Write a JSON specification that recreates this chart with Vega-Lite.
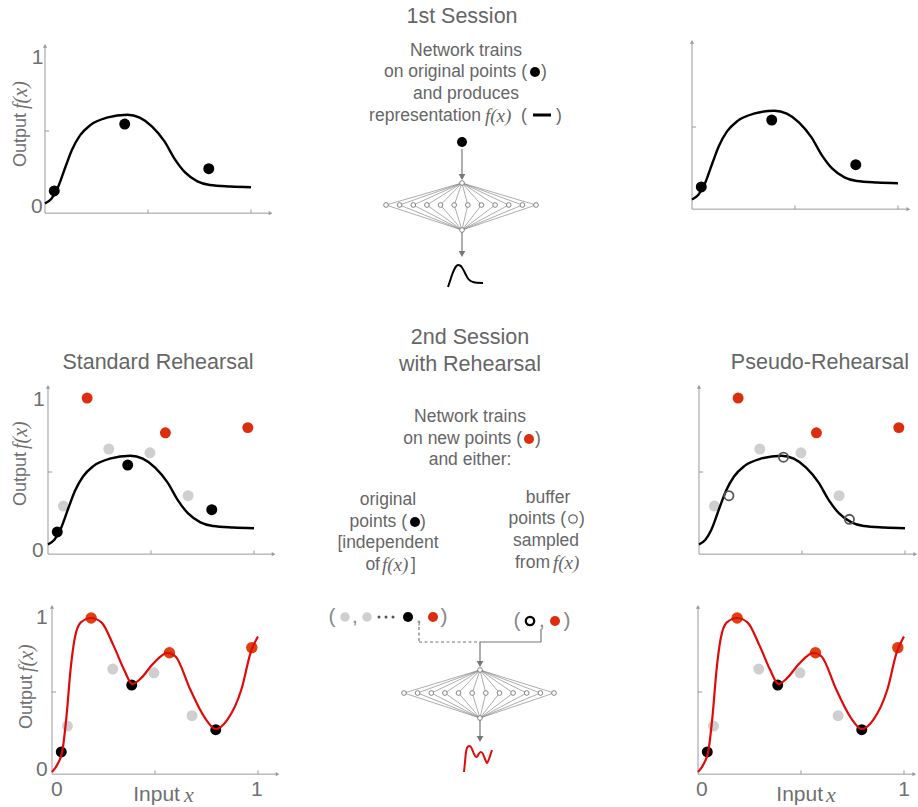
{
  "$schema": "https://vega.github.io/schema/vega-lite/v6.json",
  "padding": 0,
  "background": "white",
  "config": {"view": {"stroke": null}, "font": "Liberation Sans", "text": {"font": "Liberation Sans"}},
  "datasets": {
    "fx": [{"x":0,"y":0.01},{"x":0.03,"y":0.04},{"x":0.06,"y":0.11},{"x":0.1,"y":0.26},{"x":0.13,"y":0.37},{"x":0.17,"y":0.47},{"x":0.22,"y":0.54},{"x":0.3,"y":0.59},{"x":0.4,"y":0.61},{"x":0.46,"y":0.59},{"x":0.52,"y":0.53},{"x":0.58,"y":0.43},{"x":0.63,"y":0.31},{"x":0.68,"y":0.22},{"x":0.74,"y":0.16},{"x":0.8,"y":0.135},{"x":0.9,"y":0.125},{"x":1.0,"y":0.12}],
    "gx": [{"x":0,"y":-0.04},{"x":0.03,"y":0.02},{"x":0.05,"y":0.1},{"x":0.07,"y":0.33},{"x":0.09,"y":0.65},{"x":0.11,"y":0.86},{"x":0.14,"y":0.97},{"x":0.19,"y":1.0},{"x":0.24,"y":0.97},{"x":0.3,"y":0.81},{"x":0.35,"y":0.65},{"x":0.39,"y":0.555},{"x":0.43,"y":0.59},{"x":0.49,"y":0.69},{"x":0.56,"y":0.765},{"x":0.6,"y":0.74},{"x":0.67,"y":0.52},{"x":0.74,"y":0.33},{"x":0.795,"y":0.25},{"x":0.85,"y":0.31},{"x":0.92,"y":0.52},{"x":0.965,"y":0.77},{"x":1.0,"y":0.875}],
    "orig": [{"x":0.045,"y":0.095},{"x":0.387,"y":0.547},{"x":0.795,"y":0.245}],
    "new": [{"x":0.19,"y":1.0},{"x":0.57,"y":0.765},{"x":0.97,"y":0.8}],
    "old": [{"x":0.075,"y":0.27},{"x":0.295,"y":0.655},{"x":0.495,"y":0.63},{"x":0.68,"y":0.34}],
    "buf": [{"x":0.145,"y":0.34},{"x":0.41,"y":0.6},{"x":0.73,"y":0.18}],
    "axL": [{"x":0,"y":-0.055,"x2":1.09,"y2":-0.055},{"x":0,"y":-0.055,"x2":0,"y2":1.07},{"x":0.5,"y":-0.055,"x2":0.5,"y2":-0.03},{"x":1,"y":-0.055,"x2":1,"y2":-0.03},{"x":0,"y":0.5,"x2":0.02,"y2":0.5}],
    "tipL": [{"x":1.095,"y":-0.055,"d":"x"},{"x":0,"y":1.075,"d":"y"}],
    "axR": [{"x":0,"y":-0.055,"x2":1.045,"y2":-0.055},{"x":0,"y":-0.055,"x2":0,"y2":1.07},{"x":0.5,"y":-0.055,"x2":0.5,"y2":-0.03},{"x":1,"y":-0.055,"x2":1,"y2":-0.03},{"x":0,"y":0.5,"x2":0.02,"y2":0.5}],
    "tipR": [{"x":1.05,"y":-0.055,"d":"x"},{"x":0,"y":1.075,"d":"y"}],
    "lab": [
      {"p":1,"k":"n","t":"1","x":-0.036,"y":0.99},{"p":1,"k":"n","t":"0","x":-0.039,"y":-0.014},
      {"p":1,"k":"yt","t":"Output","x":-0.117,"y":0.622},{"p":1,"k":"yf","t":"f(x)","x":-0.117,"y":0.649},
      {"p":3,"k":"n","t":"1","x":-0.044,"y":0.986},{"p":3,"k":"n","t":"0","x":-0.049,"y":-0.034},
      {"p":3,"k":"yt","t":"Output","x":-0.131,"y":0.635},{"p":3,"k":"yf","t":"f(x)","x":-0.131,"y":0.655},
      {"p":3,"k":"ti","t":"Standard Rehearsal","x":0.534,"y":1.236},
      {"p":4,"k":"ti","t":"Pseudo-Rehearsal","x":0.587,"y":1.236},
      {"p":5,"k":"n","t":"1","x":-0.049,"y":1.0},{"p":5,"k":"n","t":"0","x":-0.049,"y":-0.027},
      {"p":5,"k":"n","t":"0","x":0.024,"y":-0.162},{"p":5,"k":"n","t":"1","x":0.995,"y":-0.162},
      {"p":5,"k":"yt","t":"Output","x":-0.121,"y":0.615},{"p":5,"k":"yf","t":"f(x)","x":-0.121,"y":0.635},
      {"p":5,"k":"xt","t":"Input","x":0.621,"y":-0.196},{"p":5,"k":"xf","t":"x","x":0.641,"y":-0.196},
      {"p":6,"k":"n","t":"0","x":0.019,"y":-0.162},{"p":6,"k":"n","t":"1","x":1.0,"y":-0.162},
      {"p":6,"k":"xt","t":"Input","x":0.607,"y":-0.196},{"p":6,"k":"xf","t":"x","x":0.621,"y":-0.196}
    ],
    "edges": [
      {"x":162,"y":183,"x2":86,"y2":205},{"x":162,"y":183,"x2":99.6,"y2":205},{"x":162,"y":183,"x2":113.3,"y2":205},{"x":162,"y":183,"x2":126.9,"y2":205},{"x":162,"y":183,"x2":140.5,"y2":205},{"x":162,"y":183,"x2":154.2,"y2":205},{"x":162,"y":183,"x2":167.8,"y2":205},{"x":162,"y":183,"x2":181.5,"y2":205},{"x":162,"y":183,"x2":195.1,"y2":205},{"x":162,"y":183,"x2":208.7,"y2":205},{"x":162,"y":183,"x2":222.4,"y2":205},{"x":162,"y":183,"x2":236,"y2":205},
      {"x":86,"y":205,"x2":162,"y2":230},{"x":99.6,"y":205,"x2":162,"y2":230},{"x":113.3,"y":205,"x2":162,"y2":230},{"x":126.9,"y":205,"x2":162,"y2":230},{"x":140.5,"y":205,"x2":162,"y2":230},{"x":154.2,"y":205,"x2":162,"y2":230},{"x":167.8,"y":205,"x2":162,"y2":230},{"x":181.5,"y":205,"x2":162,"y2":230},{"x":195.1,"y":205,"x2":162,"y2":230},{"x":208.7,"y":205,"x2":162,"y2":230},{"x":222.4,"y":205,"x2":162,"y2":230},{"x":236,"y":205,"x2":162,"y2":230},
      {"x":180,"y":670,"x2":104,"y2":693},{"x":180,"y":670,"x2":117.6,"y2":693},{"x":180,"y":670,"x2":131.3,"y2":693},{"x":180,"y":670,"x2":144.9,"y2":693},{"x":180,"y":670,"x2":158.5,"y2":693},{"x":180,"y":670,"x2":172.2,"y2":693},{"x":180,"y":670,"x2":185.8,"y2":693},{"x":180,"y":670,"x2":199.5,"y2":693},{"x":180,"y":670,"x2":213.1,"y2":693},{"x":180,"y":670,"x2":226.7,"y2":693},{"x":180,"y":670,"x2":240.4,"y2":693},{"x":180,"y":670,"x2":254,"y2":693},
      {"x":104,"y":693,"x2":180,"y2":718},{"x":117.6,"y":693,"x2":180,"y2":718},{"x":131.3,"y":693,"x2":180,"y2":718},{"x":144.9,"y":693,"x2":180,"y2":718},{"x":158.5,"y":693,"x2":180,"y2":718},{"x":172.2,"y":693,"x2":180,"y2":718},{"x":185.8,"y":693,"x2":180,"y2":718},{"x":199.5,"y":693,"x2":180,"y2":718},{"x":213.1,"y":693,"x2":180,"y2":718},{"x":226.7,"y":693,"x2":180,"y2":718},{"x":240.4,"y":693,"x2":180,"y2":718},{"x":254,"y":693,"x2":180,"y2":718}
    ],
    "nodes": [
      {"x":162,"y":183},{"x":162,"y":230},{"x":86,"y":205},{"x":99.6,"y":205},{"x":113.3,"y":205},{"x":126.9,"y":205},{"x":140.5,"y":205},{"x":154.2,"y":205},{"x":167.8,"y":205},{"x":181.5,"y":205},{"x":195.1,"y":205},{"x":208.7,"y":205},{"x":222.4,"y":205},{"x":236,"y":205},
      {"x":180,"y":670},{"x":180,"y":718},{"x":104,"y":693},{"x":117.6,"y":693},{"x":131.3,"y":693},{"x":144.9,"y":693},{"x":158.5,"y":693},{"x":172.2,"y":693},{"x":185.8,"y":693},{"x":199.5,"y":693},{"x":213.1,"y":693},{"x":226.7,"y":693},{"x":240.4,"y":693},{"x":254,"y":693}
    ],
    "alines": [{"x":162,"y":149,"x2":162,"y2":176},{"x":162,"y":232,"x2":162,"y2":253},{"x":241,"y":629,"x2":241,"y2":642},{"x":241,"y":642,"x2":180,"y2":642},{"x":180,"y":642,"x2":180,"y2":663},{"x":180,"y":720,"x2":180,"y2":738}],
    "dlines": [{"x":119,"y":627,"x2":119,"y2":642},{"x":119,"y":642,"x2":180,"y2":642}],
    "aheads": [{"x":162,"y":177},{"x":162,"y":254},{"x":180,"y":664},{"x":180,"y":739}],
    "g1": [{"x":148,"y":287},{"x":150,"y":281},{"x":152,"y":275},{"x":154,"y":270},{"x":156,"y":266.5},{"x":158,"y":265},{"x":160,"y":265.5},{"x":162,"y":267.5},{"x":164,"y":271},{"x":166,"y":275},{"x":168,"y":278.5},{"x":170,"y":280.5},{"x":173,"y":282},{"x":177,"y":282.8},{"x":183,"y":283}],
    "g2": [{"x":164,"y":772},{"x":165,"y":762},{"x":166,"y":752},{"x":168,"y":746.5},{"x":170,"y":746},{"x":172,"y":749},{"x":174,"y":754},{"x":176,"y":757},{"x":177.5,"y":756},{"x":179,"y":753.5},{"x":181,"y":752},{"x":183,"y":754},{"x":185,"y":759},{"x":187,"y":763},{"x":189,"y":759},{"x":191,"y":753},{"x":192,"y":750}],
    "cblack": [{"x":235,"y":72},{"x":115,"y":522},{"x":162,"y":142},{"x":108,"y":617}],
    "cred": [{"x":229,"y":439},{"x":133,"y":617},{"x":255,"y":621}],
    "cgray": [{"x":45,"y":617},{"x":67,"y":617}],
    "csmall": [{"x":79,"y":617},{"x":86,"y":617},{"x":93,"y":617}],
    "copen1": [{"x":273,"y":519}],
    "copen2": [{"x":230,"y":621}],
    "cdash": [{"x":233,"y":115,"x2":251,"y2":115}],
    "ctext": [
      {"k":"big","t":"1st Session","x":162,"y":17},{"k":"big","t":"2nd Session","x":170,"y":338},{"k":"big","t":"with Rehearsal","x":170,"y":365},
      {"k":"mc","t":"Network trains","x":166,"y":51},{"k":"mc","t":"and produces","x":166,"y":94},{"k":"mc","t":"Network trains","x":170,"y":417},{"k":"mc","t":"and either:","x":170,"y":460},{"k":"mc","t":"original","x":88,"y":500},{"k":"mc","t":"[independent","x":88,"y":543},{"k":"mc","t":"buffer","x":248,"y":498},{"k":"mc","t":"sampled","x":246,"y":541},
      {"k":"mr","t":"on original points (","x":227,"y":72},{"k":"mr","t":"representation","x":181,"y":116},{"k":"mr","t":"on new points (","x":222,"y":439},{"k":"mr","t":"points (","x":107,"y":522},{"k":"mr","t":"points (","x":266,"y":519},{"k":"mr","t":"of","x":80,"y":565},{"k":"mr","t":"from","x":250,"y":563},
      {"k":"ml","t":"(","x":221,"y":116},{"k":"ml","t":")","x":256,"y":116},{"k":"ml","t":")","x":241,"y":72},{"k":"ml","t":")","x":235,"y":439},{"k":"ml","t":")","x":120,"y":522},{"k":"ml","t":")","x":279,"y":519},{"k":"ml","t":"]","x":111,"y":565},
      {"k":"fi","t":"f(x)","x":185,"y":116},{"k":"fi","t":"f(x)","x":82,"y":565},{"k":"fi","t":"f(x)","x":253,"y":563},
      {"k":"par","t":"(","x":32,"y":617},{"k":"par","t":",","x":55,"y":617},{"k":"par","t":",","x":119,"y":617},{"k":"par","t":")","x":144,"y":617},{"k":"par","t":"(","x":217,"y":621},{"k":"par","t":",","x":242,"y":621},{"k":"par","t":")","x":267,"y":621}
    ]
  },
  "hconcat": [
    {
      "vconcat": [
        {
          "width": 300, "height": 300,
          "encoding": {
            "x": {"field": "x", "type": "quantitative", "scale": {"domain": [-0.2184, 1.2379], "nice": false, "zero": false}, "axis": null},
            "y": {"field": "y", "type": "quantitative", "scale": {"domain": [-0.6419, 1.3851], "nice": false, "zero": false}, "axis": null}
          },
          "layer": [
            {"data": {"name": "axL"}, "mark": {"type": "rule", "color": "#9a9a9a", "strokeWidth": 1}, "encoding": {"x2": {"field": "x2"}, "y2": {"field": "y2"}}},
            {"data": {"name": "tipL"}, "mark": {"type": "point", "filled": true, "color": "#9a9a9a", "size": 18, "opacity": 1}, "encoding": {"shape": {"field": "d", "type": "nominal", "scale": {"domain": ["x", "y"], "range": ["triangle-right", "triangle-up"]}, "legend": null}}},
            {"data": {"name": "fx"}, "mark": {"type": "line", "color": "black", "strokeWidth": 2.4, "interpolate": "monotone"}},
            {"data": {"name": "orig"}, "mark": {"type": "point", "filled": true, "color": "black", "size": 120, "opacity": 1}},
            {"data": {"name": "lab"}, "transform": [{"filter": "datum.p==1 && datum.k=='n'"}], "mark": {"type": "text", "fontSize": 21, "color": "#707070", "align": "center", "baseline": "middle"}, "encoding": {"text": {"field": "t"}}},
            {"data": {"name": "lab"}, "transform": [{"filter": "datum.p==1 && datum.k=='yt'"}], "mark": {"type": "text", "fontSize": 18, "color": "#707070", "angle": 270, "align": "right", "baseline": "middle"}, "encoding": {"text": {"field": "t"}}},
            {"data": {"name": "lab"}, "transform": [{"filter": "datum.p==1 && datum.k=='yf'"}], "mark": {"type": "text", "fontSize": 20, "font": "Liberation Serif", "fontStyle": "italic", "color": "#707070", "angle": 270, "align": "left", "baseline": "middle"}, "encoding": {"text": {"field": "t"}}}
          ]
        },
        {
          "width": 300, "height": 290,
          "encoding": {
            "x": {"field": "x", "type": "quantitative", "scale": {"domain": [-0.2330, 1.2233], "nice": false, "zero": false}, "axis": null},
            "y": {"field": "y", "type": "quantitative", "scale": {"domain": [-0.2973, 1.6622], "nice": false, "zero": false}, "axis": null}
          },
          "layer": [
            {"data": {"name": "axL"}, "mark": {"type": "rule", "color": "#9a9a9a", "strokeWidth": 1}, "encoding": {"x2": {"field": "x2"}, "y2": {"field": "y2"}}},
            {"data": {"name": "tipL"}, "mark": {"type": "point", "filled": true, "color": "#9a9a9a", "size": 18, "opacity": 1}, "encoding": {"shape": {"field": "d", "type": "nominal", "scale": {"domain": ["x", "y"], "range": ["triangle-right", "triangle-up"]}, "legend": null}}},
            {"data": {"name": "old"}, "mark": {"type": "point", "filled": true, "color": "#cfcfcf", "size": 120, "opacity": 1}},
            {"data": {"name": "new"}, "mark": {"type": "point", "filled": true, "color": "#dc2d0c", "size": 120, "opacity": 1}},
            {"data": {"name": "fx"}, "mark": {"type": "line", "color": "black", "strokeWidth": 2.4, "interpolate": "monotone"}},
            {"data": {"name": "orig"}, "mark": {"type": "point", "filled": true, "color": "black", "size": 120, "opacity": 1}},
            {"data": {"name": "lab"}, "transform": [{"filter": "datum.p==3 && datum.k=='n'"}], "mark": {"type": "text", "fontSize": 21, "color": "#707070", "align": "center", "baseline": "middle"}, "encoding": {"text": {"field": "t"}}},
            {"data": {"name": "lab"}, "transform": [{"filter": "datum.p==3 && datum.k=='ti'"}], "mark": {"type": "text", "fontSize": 21.5, "color": "#666666", "align": "center", "baseline": "middle"}, "encoding": {"text": {"field": "t"}}},
            {"data": {"name": "lab"}, "transform": [{"filter": "datum.p==3 && datum.k=='yt'"}], "mark": {"type": "text", "fontSize": 18, "color": "#707070", "angle": 270, "align": "right", "baseline": "middle"}, "encoding": {"text": {"field": "t"}}},
            {"data": {"name": "lab"}, "transform": [{"filter": "datum.p==3 && datum.k=='yf'"}], "mark": {"type": "text", "fontSize": 20, "font": "Liberation Serif", "fontStyle": "italic", "color": "#707070", "angle": 270, "align": "left", "baseline": "middle"}, "encoding": {"text": {"field": "t"}}}
          ]
        },
        {
          "width": 300, "height": 217,
          "encoding": {
            "x": {"field": "x", "type": "quantitative", "scale": {"domain": [-0.2524, 1.2039], "nice": false, "zero": false}, "axis": null},
            "y": {"field": "y", "type": "quantitative", "scale": {"domain": [-0.2770, 1.1892], "nice": false, "zero": false}, "axis": null}
          },
          "layer": [
            {"data": {"name": "axL"}, "mark": {"type": "rule", "color": "#9a9a9a", "strokeWidth": 1}, "encoding": {"x2": {"field": "x2"}, "y2": {"field": "y2"}}},
            {"data": {"name": "tipL"}, "mark": {"type": "point", "filled": true, "color": "#9a9a9a", "size": 18, "opacity": 1}, "encoding": {"shape": {"field": "d", "type": "nominal", "scale": {"domain": ["x", "y"], "range": ["triangle-right", "triangle-up"]}, "legend": null}}},
            {"data": {"name": "old"}, "mark": {"type": "point", "filled": true, "color": "#cfcfcf", "size": 120, "opacity": 1}},
            {"data": {"name": "orig"}, "mark": {"type": "point", "filled": true, "color": "black", "size": 120, "opacity": 1}},
            {"data": {"name": "new"}, "mark": {"type": "point", "filled": true, "color": "#e0400f", "size": 130, "opacity": 1}},
            {"data": {"name": "gx"}, "mark": {"type": "line", "color": "#e00a0a", "strokeWidth": 2.2, "interpolate": "monotone"}},
            {"data": {"name": "lab"}, "transform": [{"filter": "datum.p==5 && datum.k=='n'"}], "mark": {"type": "text", "fontSize": 21, "color": "#707070", "align": "center", "baseline": "middle"}, "encoding": {"text": {"field": "t"}}},
            {"data": {"name": "lab"}, "transform": [{"filter": "datum.p==5 && datum.k=='yt'"}], "mark": {"type": "text", "fontSize": 18, "color": "#707070", "angle": 270, "align": "right", "baseline": "middle"}, "encoding": {"text": {"field": "t"}}},
            {"data": {"name": "lab"}, "transform": [{"filter": "datum.p==5 && datum.k=='yf'"}], "mark": {"type": "text", "fontSize": 20, "font": "Liberation Serif", "fontStyle": "italic", "color": "#707070", "angle": 270, "align": "left", "baseline": "middle"}, "encoding": {"text": {"field": "t"}}},
            {"data": {"name": "lab"}, "transform": [{"filter": "datum.p==5 && datum.k=='xt'"}], "mark": {"type": "text", "fontSize": 21, "color": "#707070", "align": "right", "baseline": "middle"}, "encoding": {"text": {"field": "t"}}},
            {"data": {"name": "lab"}, "transform": [{"filter": "datum.p==5 && datum.k=='xf'"}], "mark": {"type": "text", "fontSize": 22, "font": "Liberation Serif", "fontStyle": "italic", "color": "#707070", "align": "left", "baseline": "middle"}, "encoding": {"text": {"field": "t"}}}
          ]
        }
      ],
      "spacing": 0,
      "bounds": "flush"
    },
    {
      "width": 380, "height": 807,
      "encoding": {
        "x": {"field": "x", "type": "quantitative", "scale": {"domain": [0, 380], "nice": false, "zero": false}, "axis": null},
        "y": {"field": "y", "type": "quantitative", "scale": {"domain": [0, 807], "reverse": true, "nice": false, "zero": false}, "axis": null}
      },
      "layer": [
        {"data": {"name": "edges"}, "mark": {"type": "rule", "color": "#8a8a8a", "strokeWidth": 0.7}, "encoding": {"x2": {"field": "x2"}, "y2": {"field": "y2"}}},
        {"data": {"name": "alines"}, "mark": {"type": "rule", "color": "#777777", "strokeWidth": 1.2}, "encoding": {"x2": {"field": "x2"}, "y2": {"field": "y2"}}},
        {"data": {"name": "dlines"}, "mark": {"type": "rule", "color": "#777777", "strokeWidth": 1.2, "strokeDash": [3, 2.5]}, "encoding": {"x2": {"field": "x2"}, "y2": {"field": "y2"}}},
        {"data": {"name": "aheads"}, "mark": {"type": "point", "shape": "triangle-down", "filled": true, "color": "#777777", "size": 45, "opacity": 1}},
        {"data": {"name": "nodes"}, "mark": {"type": "point", "shape": "circle", "filled": true, "fill": "white", "stroke": "#777777", "strokeWidth": 0.9, "size": 22, "opacity": 1}},
        {"data": {"name": "g1"}, "mark": {"type": "line", "color": "black", "strokeWidth": 2, "interpolate": "monotone"}},
        {"data": {"name": "g2"}, "mark": {"type": "line", "color": "#e00a0a", "strokeWidth": 2, "interpolate": "monotone"}},
        {"data": {"name": "cdash"}, "mark": {"type": "rule", "color": "black", "strokeWidth": 3}, "encoding": {"x2": {"field": "x2"}, "y2": {"field": "y2"}}},
        {"data": {"name": "cblack"}, "mark": {"type": "point", "filled": true, "color": "black", "size": 100, "opacity": 1}},
        {"data": {"name": "cred"}, "mark": {"type": "point", "filled": true, "color": "#dc2d0c", "size": 100, "opacity": 1}},
        {"data": {"name": "cgray"}, "mark": {"type": "point", "filled": true, "color": "#cfcfcf", "size": 90, "opacity": 1}},
        {"data": {"name": "csmall"}, "mark": {"type": "point", "filled": true, "color": "#555555", "size": 9, "opacity": 1}},
        {"data": {"name": "copen1"}, "mark": {"type": "point", "filled": false, "color": "#666666", "strokeWidth": 1.3, "size": 70, "opacity": 1}},
        {"data": {"name": "copen2"}, "mark": {"type": "point", "filled": false, "color": "black", "strokeWidth": 2.3, "size": 70, "opacity": 1}},
        {"data": {"name": "ctext"}, "transform": [{"filter": "datum.k=='big'"}], "mark": {"type": "text", "fontSize": 21.5, "color": "#666666", "align": "center", "baseline": "middle"}, "encoding": {"text": {"field": "t"}}},
        {"data": {"name": "ctext"}, "transform": [{"filter": "datum.k=='mc'"}], "mark": {"type": "text", "fontSize": 17.5, "color": "#666666", "align": "center", "baseline": "middle"}, "encoding": {"text": {"field": "t"}}},
        {"data": {"name": "ctext"}, "transform": [{"filter": "datum.k=='mr'"}], "mark": {"type": "text", "fontSize": 17.5, "color": "#666666", "align": "right", "baseline": "middle"}, "encoding": {"text": {"field": "t"}}},
        {"data": {"name": "ctext"}, "transform": [{"filter": "datum.k=='ml'"}], "mark": {"type": "text", "fontSize": 17.5, "color": "#666666", "align": "left", "baseline": "middle"}, "encoding": {"text": {"field": "t"}}},
        {"data": {"name": "ctext"}, "transform": [{"filter": "datum.k=='fi'"}], "mark": {"type": "text", "fontSize": 19, "font": "Liberation Serif", "fontStyle": "italic", "color": "#666666", "align": "left", "baseline": "middle"}, "encoding": {"text": {"field": "t"}}},
        {"data": {"name": "ctext"}, "transform": [{"filter": "datum.k=='par'"}], "mark": {"type": "text", "fontSize": 21, "color": "#888888", "align": "center", "baseline": "middle"}, "encoding": {"text": {"field": "t"}}}
      ]
    },
    {
      "vconcat": [
        {
          "width": 238, "height": 300,
          "encoding": {
            "x": {"field": "x", "type": "quantitative", "scale": {"domain": [-0.0583, 1.0971], "nice": false, "zero": false}, "axis": null},
            "y": {"field": "y", "type": "quantitative", "scale": {"domain": [-0.6689, 1.3581], "nice": false, "zero": false}, "axis": null}
          },
          "layer": [
            {"data": {"name": "axR"}, "mark": {"type": "rule", "color": "#9a9a9a", "strokeWidth": 1}, "encoding": {"x2": {"field": "x2"}, "y2": {"field": "y2"}}},
            {"data": {"name": "tipR"}, "mark": {"type": "point", "filled": true, "color": "#9a9a9a", "size": 18, "opacity": 1}, "encoding": {"shape": {"field": "d", "type": "nominal", "scale": {"domain": ["x", "y"], "range": ["triangle-right", "triangle-up"]}, "legend": null}}},
            {"data": {"name": "fx"}, "mark": {"type": "line", "color": "black", "strokeWidth": 2.4, "interpolate": "monotone"}},
            {"data": {"name": "orig"}, "mark": {"type": "point", "filled": true, "color": "black", "size": 120, "opacity": 1}}
          ]
        },
        {
          "width": 238, "height": 290,
          "encoding": {
            "x": {"field": "x", "type": "quantitative", "scale": {"domain": [-0.0922, 1.0631], "nice": false, "zero": false}, "axis": null},
            "y": {"field": "y", "type": "quantitative", "scale": {"domain": [-0.2973, 1.6622], "nice": false, "zero": false}, "axis": null}
          },
          "layer": [
            {"data": {"name": "axR"}, "mark": {"type": "rule", "color": "#9a9a9a", "strokeWidth": 1}, "encoding": {"x2": {"field": "x2"}, "y2": {"field": "y2"}}},
            {"data": {"name": "tipR"}, "mark": {"type": "point", "filled": true, "color": "#9a9a9a", "size": 18, "opacity": 1}, "encoding": {"shape": {"field": "d", "type": "nominal", "scale": {"domain": ["x", "y"], "range": ["triangle-right", "triangle-up"]}, "legend": null}}},
            {"data": {"name": "old"}, "mark": {"type": "point", "filled": true, "color": "#cfcfcf", "size": 120, "opacity": 1}},
            {"data": {"name": "new"}, "mark": {"type": "point", "filled": true, "color": "#dc2d0c", "size": 120, "opacity": 1}},
            {"data": {"name": "fx"}, "mark": {"type": "line", "color": "black", "strokeWidth": 2.4, "interpolate": "monotone"}},
            {"data": {"name": "buf"}, "mark": {"type": "point", "filled": false, "color": "#555555", "strokeWidth": 1.8, "size": 85, "opacity": 1}},
            {"data": {"name": "lab"}, "transform": [{"filter": "datum.p==4 && datum.k=='ti'"}], "mark": {"type": "text", "fontSize": 21.5, "color": "#666666", "align": "center", "baseline": "middle"}, "encoding": {"text": {"field": "t"}}}
          ]
        },
        {
          "width": 238, "height": 217,
          "encoding": {
            "x": {"field": "x", "type": "quantitative", "scale": {"domain": [-0.0874, 1.0680], "nice": false, "zero": false}, "axis": null},
            "y": {"field": "y", "type": "quantitative", "scale": {"domain": [-0.2770, 1.1892], "nice": false, "zero": false}, "axis": null}
          },
          "layer": [
            {"data": {"name": "axR"}, "mark": {"type": "rule", "color": "#9a9a9a", "strokeWidth": 1}, "encoding": {"x2": {"field": "x2"}, "y2": {"field": "y2"}}},
            {"data": {"name": "tipR"}, "mark": {"type": "point", "filled": true, "color": "#9a9a9a", "size": 18, "opacity": 1}, "encoding": {"shape": {"field": "d", "type": "nominal", "scale": {"domain": ["x", "y"], "range": ["triangle-right", "triangle-up"]}, "legend": null}}},
            {"data": {"name": "old"}, "mark": {"type": "point", "filled": true, "color": "#cfcfcf", "size": 120, "opacity": 1}},
            {"data": {"name": "orig"}, "mark": {"type": "point", "filled": true, "color": "black", "size": 120, "opacity": 1}},
            {"data": {"name": "new"}, "mark": {"type": "point", "filled": true, "color": "#e0400f", "size": 130, "opacity": 1}},
            {"data": {"name": "gx"}, "mark": {"type": "line", "color": "#e00a0a", "strokeWidth": 2.2, "interpolate": "monotone"}},
            {"data": {"name": "lab"}, "transform": [{"filter": "datum.p==6 && datum.k=='n'"}], "mark": {"type": "text", "fontSize": 21, "color": "#707070", "align": "center", "baseline": "middle"}, "encoding": {"text": {"field": "t"}}},
            {"data": {"name": "lab"}, "transform": [{"filter": "datum.p==6 && datum.k=='xt'"}], "mark": {"type": "text", "fontSize": 21, "color": "#707070", "align": "right", "baseline": "middle"}, "encoding": {"text": {"field": "t"}}},
            {"data": {"name": "lab"}, "transform": [{"filter": "datum.p==6 && datum.k=='xf'"}], "mark": {"type": "text", "fontSize": 22, "font": "Liberation Serif", "fontStyle": "italic", "color": "#707070", "align": "left", "baseline": "middle"}, "encoding": {"text": {"field": "t"}}}
          ]
        }
      ],
      "spacing": 0,
      "bounds": "flush"
    }
  ],
  "spacing": 0,
  "bounds": "full"
}
